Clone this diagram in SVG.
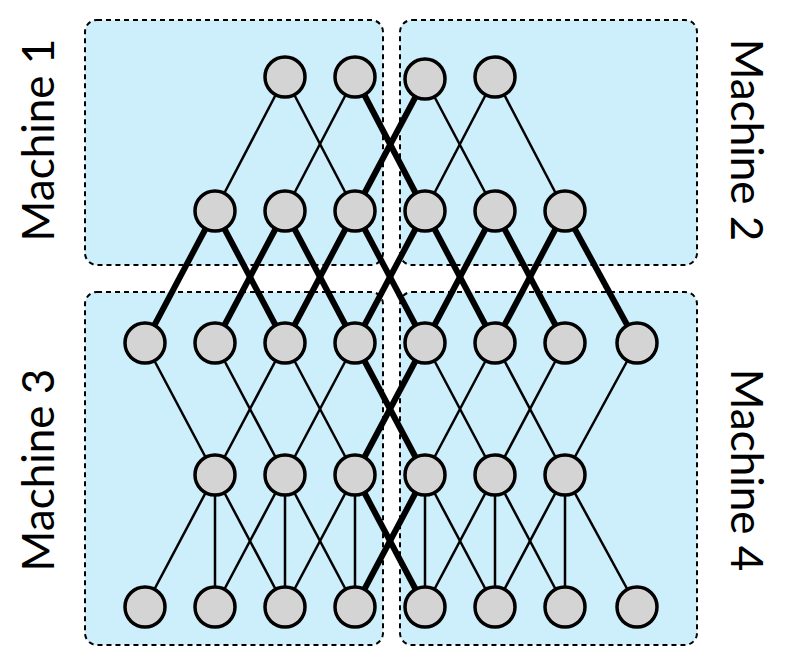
<svg xmlns="http://www.w3.org/2000/svg" width="800" height="668" viewBox="0 0 800 668">
<style>
.box{fill:#cdeffb;stroke:#000;stroke-width:2;stroke-dasharray:5,4}
.e{stroke:#000;stroke-width:2.5}
.t{stroke:#000;stroke-width:6}
.n{fill:#d4d4d4;stroke:#000;stroke-width:3.5}
.lbl{font-family:Lato,"Open Sans",sans-serif;font-size:44px;fill:#000;text-anchor:middle}
</style>
<rect width="800" height="668" fill="#fff"/>
<g id="machines">
<rect class="box" x="85" y="20" width="298" height="245" rx="12"/>
<rect class="box" x="400" y="20" width="297" height="245" rx="12"/>
<rect class="box" x="85" y="292" width="298" height="353" rx="12"/>
<rect class="box" x="400" y="292" width="297" height="353" rx="12"/>
</g>
<g id="labels">
<text class="lbl" transform="translate(54,140) rotate(-90)">Machine 1</text>
<text class="lbl" transform="translate(731,140) rotate(90)">Machine 2</text>
<text class="lbl" transform="translate(54,470) rotate(-90)">Machine 3</text>
<text class="lbl" transform="translate(731,470) rotate(90)">Machine 4</text>
</g>
<g id="connectors">
<line class="e" x1="285" y1="77" x2="215" y2="211"/>
<line class="e" x1="285" y1="77" x2="355" y2="211"/>
<line class="e" x1="355" y1="77" x2="285" y2="211"/>
<line class="t" x1="355" y1="77" x2="425" y2="211"/>
<line class="t" x1="425" y1="79" x2="355" y2="211"/>
<line class="e" x1="425" y1="79" x2="495" y2="211"/>
<line class="e" x1="495" y1="77" x2="425" y2="211"/>
<line class="e" x1="495" y1="77" x2="565" y2="211"/>
<line class="t" x1="215" y1="211" x2="145" y2="343"/>
<line class="t" x1="215" y1="211" x2="285" y2="343"/>
<line class="t" x1="285" y1="211" x2="215" y2="343"/>
<line class="t" x1="285" y1="211" x2="355" y2="343"/>
<line class="t" x1="355" y1="211" x2="285" y2="343"/>
<line class="t" x1="355" y1="211" x2="425" y2="343"/>
<line class="t" x1="425" y1="211" x2="355" y2="343"/>
<line class="t" x1="425" y1="211" x2="495" y2="343"/>
<line class="t" x1="495" y1="211" x2="425" y2="343"/>
<line class="t" x1="495" y1="211" x2="565" y2="343"/>
<line class="t" x1="565" y1="211" x2="495" y2="343"/>
<line class="t" x1="565" y1="211" x2="637" y2="343"/>
<line class="e" x1="145" y1="343" x2="215" y2="475"/>
<line class="e" x1="215" y1="343" x2="285" y2="475"/>
<line class="e" x1="285" y1="343" x2="215" y2="475"/>
<line class="e" x1="285" y1="343" x2="355" y2="475"/>
<line class="e" x1="355" y1="343" x2="285" y2="475"/>
<line class="t" x1="355" y1="343" x2="425" y2="475"/>
<line class="t" x1="425" y1="343" x2="355" y2="475"/>
<line class="e" x1="425" y1="343" x2="495" y2="475"/>
<line class="e" x1="495" y1="343" x2="425" y2="475"/>
<line class="e" x1="495" y1="343" x2="565" y2="475"/>
<line class="e" x1="565" y1="343" x2="495" y2="475"/>
<line class="e" x1="637" y1="343" x2="565" y2="475"/>
<line class="e" x1="215" y1="475" x2="145" y2="607"/>
<line class="e" x1="215" y1="475" x2="215" y2="607"/>
<line class="e" x1="215" y1="475" x2="285" y2="607"/>
<line class="e" x1="285" y1="475" x2="215" y2="607"/>
<line class="e" x1="285" y1="475" x2="285" y2="607"/>
<line class="e" x1="285" y1="475" x2="355" y2="607"/>
<line class="e" x1="355" y1="475" x2="285" y2="607"/>
<line class="e" x1="355" y1="475" x2="355" y2="607"/>
<line class="t" x1="355" y1="475" x2="425" y2="607"/>
<line class="t" x1="425" y1="475" x2="355" y2="607"/>
<line class="e" x1="425" y1="475" x2="425" y2="607"/>
<line class="e" x1="425" y1="475" x2="495" y2="607"/>
<line class="e" x1="495" y1="475" x2="425" y2="607"/>
<line class="e" x1="495" y1="475" x2="495" y2="607"/>
<line class="e" x1="495" y1="475" x2="565" y2="607"/>
<line class="e" x1="565" y1="475" x2="495" y2="607"/>
<line class="e" x1="565" y1="475" x2="565" y2="607"/>
<line class="e" x1="565" y1="475" x2="637" y2="607"/>
</g>
<g id="nodes">
<circle id="n0a" class="n" cx="285" cy="77" r="20"/><circle id="n0b" class="n" cx="355" cy="77" r="20"/><circle id="n0c" class="n" cx="425" cy="79" r="20"/><circle id="n0d" class="n" cx="495" cy="77" r="20"/>
<circle id="n1a" class="n" cx="215" cy="211" r="20"/><circle id="n1b" class="n" cx="285" cy="211" r="20"/><circle id="n1c" class="n" cx="355" cy="211" r="20"/><circle id="n1d" class="n" cx="425" cy="211" r="20"/><circle id="n1e" class="n" cx="495" cy="211" r="20"/><circle id="n1f" class="n" cx="565" cy="211" r="20"/>
<circle id="n2a" class="n" cx="145" cy="343" r="20"/><circle id="n2b" class="n" cx="215" cy="343" r="20"/><circle id="n2c" class="n" cx="285" cy="343" r="20"/><circle id="n2d" class="n" cx="355" cy="343" r="20"/><circle id="n2e" class="n" cx="425" cy="343" r="20"/><circle id="n2f" class="n" cx="495" cy="343" r="20"/><circle id="n2g" class="n" cx="565" cy="343" r="20"/><circle id="n2h" class="n" cx="637" cy="343" r="20"/>
<circle id="n3a" class="n" cx="215" cy="475" r="20"/><circle id="n3b" class="n" cx="285" cy="475" r="20"/><circle id="n3c" class="n" cx="355" cy="475" r="20"/><circle id="n3d" class="n" cx="425" cy="475" r="20"/><circle id="n3e" class="n" cx="495" cy="475" r="20"/><circle id="n3f" class="n" cx="565" cy="475" r="20"/>
<circle id="n4a" class="n" cx="145" cy="607" r="20"/><circle id="n4b" class="n" cx="215" cy="607" r="20"/><circle id="n4c" class="n" cx="285" cy="607" r="20"/><circle id="n4d" class="n" cx="355" cy="607" r="20"/><circle id="n4e" class="n" cx="425" cy="607" r="20"/><circle id="n4f" class="n" cx="495" cy="607" r="20"/><circle id="n4g" class="n" cx="565" cy="607" r="20"/><circle id="n4h" class="n" cx="637" cy="607" r="20"/>
</g>
</svg>
